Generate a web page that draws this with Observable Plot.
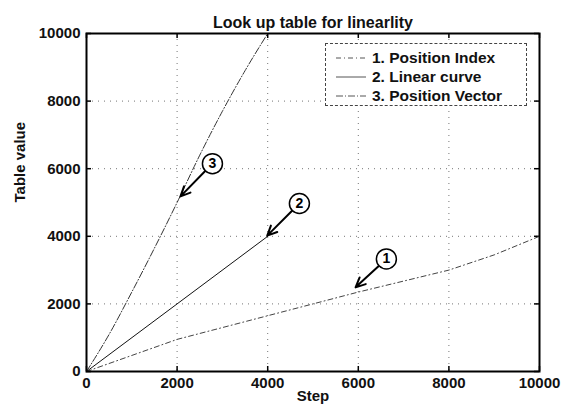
<!DOCTYPE html>
<html>
<head>
<meta charset="utf-8">
<script src="https://cdn.jsdelivr.net/npm/d3@7"></script>
<script src="https://cdn.jsdelivr.net/npm/@observablehq/plot@0.6"></script>
<style>
  html, body { margin: 0; padding: 0; background: #fff; }
  #wrap { position: relative; width: 575px; height: 412px; font-family: Arial, "Liberation Sans", sans-serif; }
  #legend { position: absolute; left: 325px; top: 43px; width: 202px; height: 63px; border: 1px dashed #444; box-sizing: border-box; background: #fff; }
  .samp { position: absolute; left: 10px; width: 30px; height: 6px; }
  .lab { position: absolute; left: 46px; line-height: 19px; height: 19px; font-weight: bold; font-size: 15.5px; color: #111; white-space: nowrap; }
</style>
</head>
<body>
<div id="wrap"></div>
<script>
// ---- data ----
const titleText = "Look up table for linearlity";
const xLabel = "Step";
const yLabel = "Table value";
const xTicks = [0, 2000, 4000, 6000, 8000, 10000];
const yTicks = [0, 2000, 4000, 6000, 8000, 10000];

const s1Step = [0, 2000, 4000, 6000, 8000, 9000, 10000];
const s1Val  = [0, 950, 1650, 2350, 3000, 3450, 4000];

const s2Step = [0, 4000];
const s2Val  = [0, 4000];

const s3Step = [0, 500, 1000, 1500, 2000, 2500, 3000, 3500, 4000];
const s3Val  = [0, 1100, 2350, 3650, 5000, 6400, 7700, 8900, 10000];

const legendLabels = ["1. Position Index", "2. Linear curve", "3. Position Vector"];
const annoLabels = ["1", "2", "3"];
const annoX = [6620, 4700, 2780];
const annoY = [3330, 4970, 6150];
const tipX  = [5940, 3990, 2075];
const tipY  = [2490, 4020, 5180];

// ---- build ----
const W = 575, H = 412, mL = 86, mR = 36, mT = 33, mB = 41;
const frameH = H - mT - mB;
const font = "Arial, 'Liberation Sans', sans-serif";
const s1 = s1Step.map((x, i) => ({x, y: s1Val[i]}));
const s2 = s2Step.map((x, i) => ({x, y: s2Val[i]}));
const s3 = s3Step.map((x, i) => ({x, y: s3Val[i]}));
const annos = annoLabels.map((t, i) => ({t, cx: annoX[i], cy: annoY[i], tx: tipX[i], ty: tipY[i]}));
const fmt = d3.format("d");

const chart = Plot.plot({
  width: W, height: H,
  marginLeft: mL, marginRight: mR, marginTop: mT, marginBottom: mB,
  style: {fontFamily: font, background: "transparent"},
  x: {domain: [0, 10000], label: null},
  y: {domain: [0, 10000], label: null},
  marks: [
    Plot.gridX(xTicks, {stroke: "#666", strokeOpacity: 0.9, strokeDasharray: "1,5"}),
    Plot.gridY(yTicks, {stroke: "#666", strokeOpacity: 0.9, strokeDasharray: "1,5"}),
    Plot.axisX(xTicks, {tickSize: 0, tickPadding: 6, fontSize: 15, fontWeight: "bold", tickFormat: fmt, fill: "#111"}),
    Plot.axisY(yTicks, {tickSize: 0, tickPadding: 6, fontSize: 15, fontWeight: "bold", tickFormat: fmt, fill: "#111"}),
    Plot.tickX(xTicks, {x: d => d, insetTop: frameH - 5, stroke: "#000", strokeWidth: 1.5}),
    Plot.tickX(xTicks, {x: d => d, insetBottom: frameH - 5, stroke: "#000", strokeWidth: 1.5}),
    Plot.tickY(yTicks, {y: d => d, insetRight: (W - mL - mR) - 5, stroke: "#000", strokeWidth: 1.5}),
    Plot.tickY(yTicks, {y: d => d, insetLeft: (W - mL - mR) - 5, stroke: "#000", strokeWidth: 1.5}),
    Plot.line(s1, {x: "x", y: "y", stroke: "#444", strokeWidth: 1, strokeDasharray: "5,3,1,3"}),
    Plot.line(s2, {x: "x", y: "y", stroke: "#111", strokeWidth: 1}),
    Plot.line(s3, {x: "x", y: "y", stroke: "#333", strokeWidth: 1, strokeDasharray: "7,2,1,2", curve: "monotone-x"}),
    Plot.arrow(annos, {x1: "cx", y1: "cy", x2: "tx", y2: "ty", insetStart: 10, headLength: 8, headAngle: 50, stroke: "#000", strokeWidth: 2}),
    Plot.dot(annos, {x: "cx", y: "cy", r: 10, fill: "#fff", stroke: "#000", strokeWidth: 1.5}),
    Plot.text(annos, {x: "cx", y: "cy", text: "t", fontSize: 14, fontWeight: "bold", fill: "#000"}),
    Plot.frame({stroke: "#000", strokeWidth: 2}),
    Plot.text([titleText], {frameAnchor: "top", dy: -17, fontSize: 16, fontWeight: "bold", fill: "#111"}),
    Plot.text([xLabel], {frameAnchor: "bottom", dy: 29, fontSize: 15, fontWeight: "bold", fill: "#111"}),
    Plot.text([yLabel], {frameAnchor: "left", dx: -66, rotate: -90, fontSize: 15, fontWeight: "bold", fill: "#111"})
  ]
});

const wrap = document.getElementById("wrap");
wrap.appendChild(chart);

// legend overlay
const legend = document.createElement("div");
legend.id = "legend";
const dashes = ["5,3,1,3", null, "7,2,1,2"];
legendLabels.forEach((lab, i) => {
  const top = 4 + i * 19;
  const dash = dashes[i] ? ` stroke-dasharray="${dashes[i]}"` : "";
  const s = document.createElement("div");
  s.className = "samp";
  s.style.top = (top + 7) + "px";
  s.innerHTML = `<svg width="30" height="6" style="display:block"><line x1="0" y1="3" x2="30" y2="3" stroke="#555" stroke-width="1"${dash}/></svg>`;
  const t = document.createElement("div");
  t.className = "lab";
  t.style.top = top + "px";
  t.textContent = lab;
  legend.appendChild(s);
  legend.appendChild(t);
});
wrap.appendChild(legend);
</script>
</body>
</html>
